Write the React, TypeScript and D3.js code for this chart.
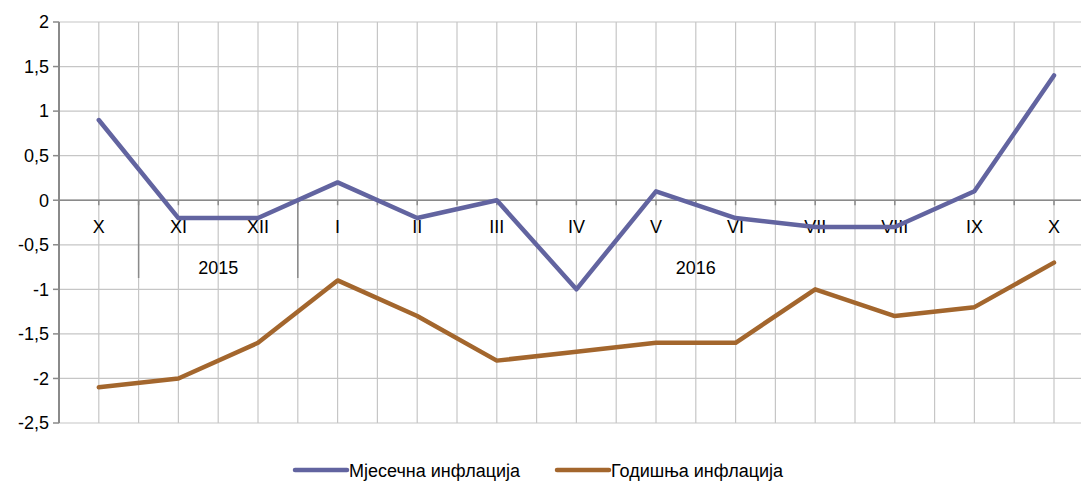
import React from 'react';
import * as d3 from 'd3';

const months = ['X', 'XI', 'XII', 'I', 'II', 'III', 'IV', 'V', 'VI', 'VII', 'VIII', 'IX', 'X '];
const monthly = [0.9, -0.2, -0.2, 0.2, -0.2, 0.0, -1.0, 0.1, -0.2, -0.3, -0.3, 0.1, 1.4];
const annual = [-2.1, -2.0, -1.6, -0.9, -1.3, -1.8, -1.7, -1.6, -1.6, -1.0, -1.3, -1.2, -0.7];
const yTicks = [2, 1.5, 1, 0.5, 0, -0.5, -1, -1.5, -2, -2.5];
// year groups: [label, first index, last index]
const groups: [string, number, number][] = [['', 0, 0], ['2015', 1, 2], ['2016', 3, 12]];

const seriesList = [
  { name: 'Мјесечна инфлација', values: monthly, color: '#6264a0' },
  { name: 'Годишња инфлација', values: annual, color: '#a3662d' },
];

export default function App() {
  const width = 1081;
  const height = 481;
  const left = 59;
  const band = 79.6;
  const font = '"Liberation Sans", Arial, sans-serif';
  const fs = 18;

  const x = d3.scaleBand().domain(months).range([left, left + band * months.length]).paddingInner(0).paddingOuter(0);
  const y = d3.scaleLinear().domain([-2.5, 2]).range([423, 22]);
  const cx = (i: number) => (x(months[i]) as number) + x.bandwidth() / 2;

  const line = d3.line<number>().x((_, i) => cx(i)).y(d => y(d));

  const vLines: number[] = [];
  months.forEach((m, i) => {
    vLines.push(x(m) as number);
    vLines.push(cx(i));
  });
  vLines.push((x(months[months.length - 1]) as number) + x.bandwidth());

  return (
    <svg width={width} height={height} style={{ position: 'absolute', left: 0, top: 0, background: '#fff' }} fontFamily={font}>
      <defs>
        <clipPath id="plot">
          <rect x={0} y={0} width={width} height={height} />
        </clipPath>
      </defs>
      <g clipPath="url(#plot)">
        {/* horizontal grid */}
        {yTicks.map(t => (
          <line key={'h' + t} x1={left} x2={width} y1={y(t)} y2={y(t)} stroke="#c6c6c6" strokeWidth={1.2} />
        ))}
        {/* vertical grid */}
        {vLines.slice(1).map((v, i) => (
          <line key={'v' + i} x1={v} x2={v} y1={y(2)} y2={y(-2.5)} stroke="#c6c6c6" strokeWidth={1.2} />
        ))}
        {/* zero axis with ticks */}
        <line x1={left} x2={width} y1={y(0)} y2={y(0)} stroke="#8a8a8a" strokeWidth={1.5} />
        {vLines.slice(1).map((v, i) => (
          <line key={'t' + i} x1={v} x2={v} y1={y(0)} y2={y(0) + 5} stroke="#8a8a8a" strokeWidth={1.5} />
        ))}
        {/* group separators */}
        {groups.slice(1).map(g => {
          const gx = x(months[g[1]]) as number;
          return <line key={'g' + g[0]} x1={gx} x2={gx} y1={y(0)} y2={278} stroke="#8a8a8a" strokeWidth={1.5} />;
        })}
      </g>

      {/* left axis */}
      <line x1={left} x2={left} y1={y(2)} y2={y(-2.5)} stroke="#8a8a8a" strokeWidth={2} />
      {yTicks.map(t => (
        <g key={'yt' + t}>
          <line x1={left - 6} x2={left} y1={y(t)} y2={y(t)} stroke="#8a8a8a" strokeWidth={1.5} />
          <text x={49} y={y(t)} dy="0.35em" textAnchor="end" fontSize={fs} fill="#000">
            {String(t).replace('.', ',')}
          </text>
        </g>
      ))}

      {/* category labels */}
      {months.map((m, i) => (
        <text key={'m' + i} x={cx(i)} y={233} textAnchor="middle" fontSize={fs} fill="#000">
          {m.trim()}
        </text>
      ))}
      {groups.map(g => {
        const gx = ((x(months[g[1]]) as number) + (x(months[g[2]]) as number) + x.bandwidth()) / 2;
        return (
          <text key={'gl' + g[0]} x={gx} y={274} textAnchor="middle" fontSize={fs} fill="#000">
            {g[0]}
          </text>
        );
      })}

      {/* series */}
      {seriesList.map(s => (
        <path key={s.name} d={line(s.values) || ''} fill="none" stroke={s.color} strokeWidth={4.5} strokeLinejoin="round" strokeLinecap="round" />
      ))}

      {/* legend */}
      {seriesList.map((s, i) => {
        const lx = i === 0 ? 295 : 557;
        return (
          <g key={'lg' + s.name}>
            <line x1={lx} x2={lx + 52} y1={470} y2={470} stroke={s.color} strokeWidth={4.5} strokeLinecap="round" />
            <text x={lx + 54} y={470} dy="0.38em" fontSize={fs} fill="#000">{s.name}</text>
          </g>
        );
      })}
    </svg>
  );
}
